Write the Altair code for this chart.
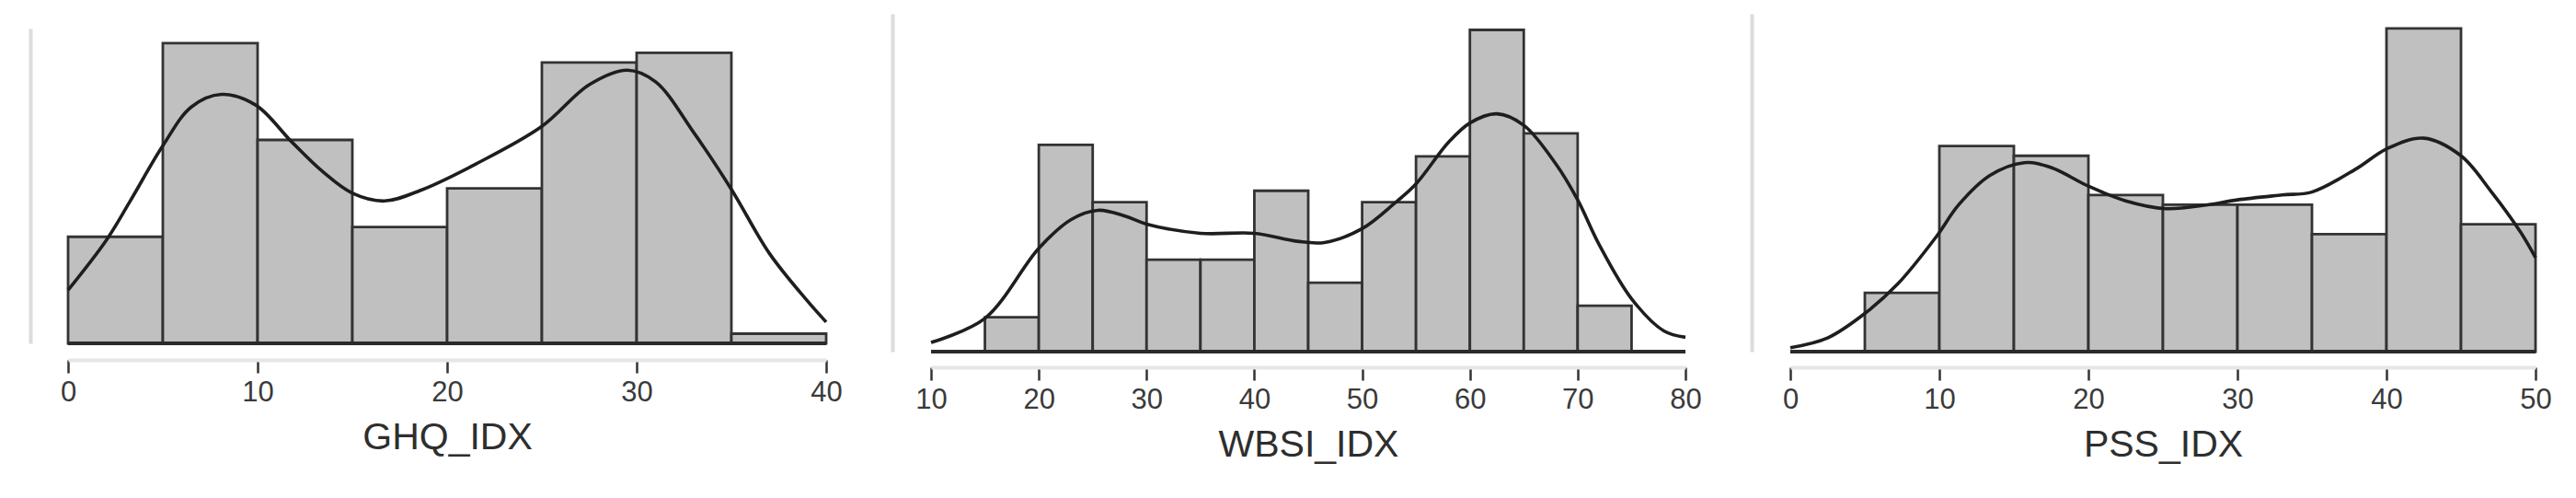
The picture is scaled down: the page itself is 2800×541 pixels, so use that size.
import altair as alt
import pandas as pd

# ---------------- data ----------------
GHQ_BIN_START = [0, 5, 10, 15, 20, 25, 30, 35]
GHQ_COUNTS = [11, 31, 21, 12, 16, 29, 30, 1]
GHQ_KDE_X = [0, 2, 3.25, 5, 6.5, 8.1, 9.9, 11.8, 13.45, 15, 16.7, 18.6, 21.5, 25, 27.5, 29.5, 31, 33, 35, 37, 39, 40]
GHQ_KDE_Y = [5.5, 10.6, 14.6, 20.4, 24.4, 25.7, 24.6, 20.8, 17.7, 15.5, 14.7, 15.8, 18.5, 22.4, 26.7, 28.2, 27.0, 21.8, 15.9, 9.3, 4.4, 2.2]
GHQ_TICKS = [0, 10, 20, 30, 40]

WBSI_BIN_START = [15, 20, 25, 30, 35, 40, 45, 50, 55, 60, 65, 70]
WBSI_COUNTS = [3, 18, 13, 8, 8, 14, 6, 13, 17, 28, 19, 4]
WBSI_KDE_X = [10, 15, 20, 23, 25.5, 28, 30, 35, 40, 44, 46.5, 50, 53, 55, 58, 60, 62.5, 65, 68, 70, 72, 75, 78, 80]
WBSI_KDE_Y = [0.8, 2.9, 9.0, 11.5, 12.3, 11.8, 11.1, 10.3, 10.3, 9.6, 9.5, 10.7, 12.9, 14.6, 18.2, 19.9, 20.7, 19.7, 16.3, 13.2, 9.3, 4.6, 1.8, 1.25]
WBSI_TICKS = [10, 20, 30, 40, 50, 60, 70, 80]

PSS_BIN_START = [5, 10, 15, 20, 25, 30, 35, 40, 45]
PSS_COUNTS = [6, 21, 20, 16, 15, 15, 12, 33, 13]
PSS_KDE_X = [0, 2.5, 5, 7.2, 9.8, 11.3, 13.4, 15.7, 17.5, 20, 22.5, 25.2, 28, 30, 33, 35, 38, 40, 42.5, 45, 47, 49, 50]
PSS_KDE_Y = [0.4, 1.4, 3.9, 6.9, 11.75, 15.0, 18.0, 19.3, 18.8, 16.9, 15.4, 14.6, 15.0, 15.5, 16.0, 16.3, 18.7, 20.7, 21.8, 20.0, 16.4, 12.2, 9.6]
PSS_TICKS = [0, 10, 20, 30, 40, 50]

BIN_WIDTH = 5
FONT = "Liberation Sans"


def panel(name, starts, counts, kde_x, kde_y, ticks, width, height, y_top, y_max, x_off, y_off):
    bars = pd.DataFrame({
        "start": starts,
        "end": [s + BIN_WIDTH for s in starts],
        "count": counts,
    })
    kde = pd.DataFrame({"x": kde_x, "y": kde_y})
    base_df = pd.DataFrame({"lo": [ticks[0]], "hi": [ticks[-1]], "zero": [0]})

    xscale = alt.Scale(domain=[ticks[0], ticks[-1]], nice=False, zero=False)
    yscale = alt.Scale(domain=[0, y_max], range=[height, y_top], nice=False)

    xaxis = alt.Axis(
        values=ticks, title=name, offset=x_off, grid=False,
        domainColor="#e6e6e6", domainWidth=4,
        tickColor="#333333", tickWidth=2.5, tickSize=14,
        labelFont=FONT, labelFontSize=31, labelColor="#3a3a3a", labelPadding=6,
        labelFlush=False,
        titleFont=FONT, titleFontSize=41, titleFontWeight="normal",
        titleColor="#2e2e2e", titlePadding=14,
    )
    yaxis = alt.Axis(
        title=None, labels=False, ticks=False, grid=False,
        domainColor="#dcdcdc", domainWidth=4, offset=y_off,
    )

    rects = alt.Chart(bars).mark_rect(
        fill="#c0c0c0", stroke="#333333", strokeWidth=2.8
    ).encode(
        x=alt.X("start:Q", scale=xscale, axis=xaxis),
        x2="end:Q",
        y=alt.Y("count:Q", scale=yscale, axis=yaxis),
        y2=alt.datum(0),
    )
    baseline = alt.Chart(base_df).mark_rule(
        color="#2a2a2a", strokeWidth=4
    ).encode(x="lo:Q", x2="hi:Q", y="zero:Q")
    line = alt.Chart(kde).mark_line(
        color="#1e1e1e", strokeWidth=3.6, interpolate="catmull-rom"
    ).encode(x="x:Q", y="y:Q")

    return alt.layer(rects, baseline, line).properties(width=width, height=height)


p1 = panel("GHQ_IDX", GHQ_BIN_START, GHQ_COUNTS, GHQ_KDE_X, GHQ_KDE_Y, GHQ_TICKS,
           824, 358, 16, 32.5, 18, 41)
p2 = panel("WBSI_IDX", WBSI_BIN_START, WBSI_COUNTS, WBSI_KDE_X, WBSI_KDE_Y, WBSI_TICKS,
           820, 367, 0, 29.4, 17, 42)
p3 = panel("PSS_IDX", PSS_BIN_START, PSS_COUNTS, PSS_KDE_X, PSS_KDE_Y, PSS_TICKS,
           810, 367, 0, 34.5, 17, 42)

chart = alt.hconcat(p1, p2, p3, spacing=114, bounds="flush").properties(
    padding={"left": 25, "top": 7, "right": 5, "bottom": 5},
    background="white",
).configure_view(stroke=None)

chart.save("out.html", embed_options={"renderer": "svg", "actions": False})
